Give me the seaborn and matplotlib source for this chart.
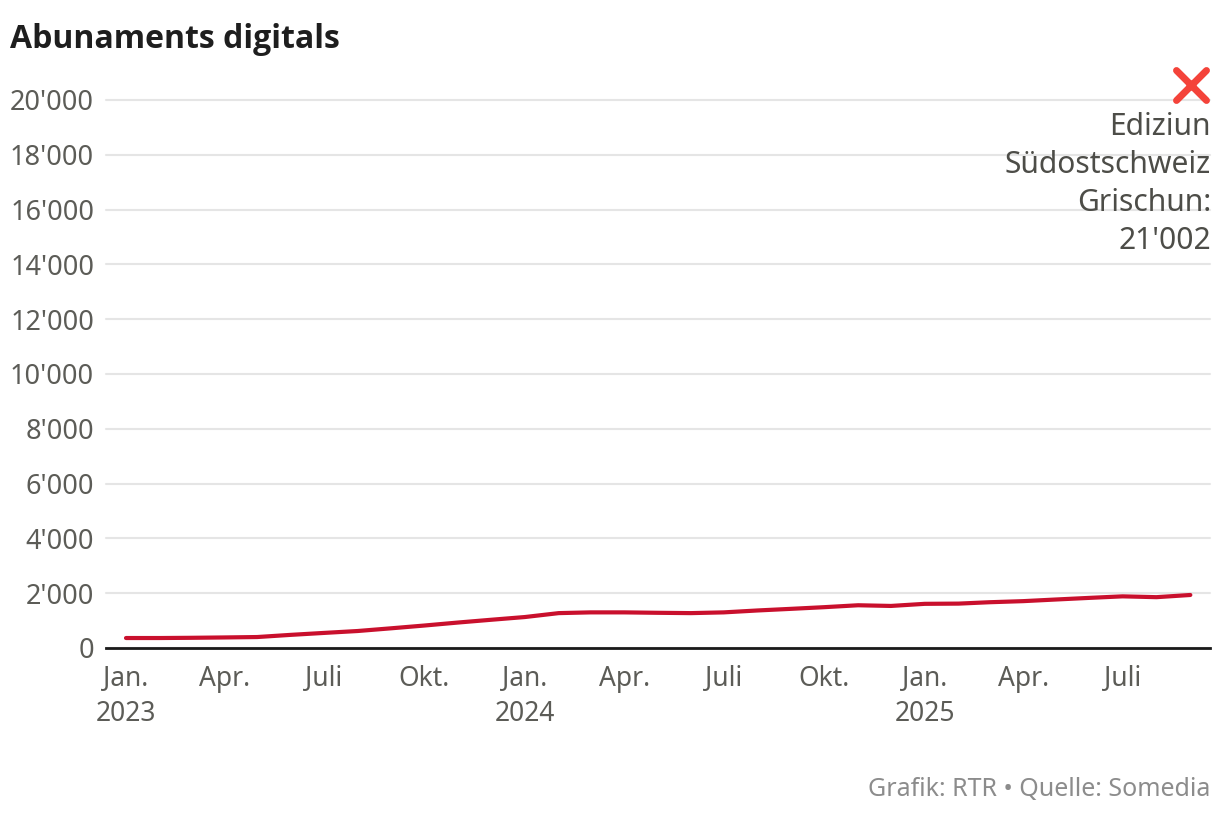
import matplotlib
matplotlib.use("Agg")
import matplotlib.pyplot as plt
from matplotlib.markers import MarkerStyle
import pandas as pd
import seaborn as sns

months = pd.date_range("2023-01-01", "2025-09-01", freq="MS")
subscribers = [364, 364, 372, 385, 400, 480, 550, 620, 720, 820, 930, 1030, 1130,
               1273, 1300, 1300, 1285, 1273, 1300, 1370, 1430, 1490, 1560, 1535,
               1612, 1620, 1670, 1710, 1770, 1830, 1885, 1855, 1935]
y_ticks = [0, 2000, 4000, 6000, 8000, 10000, 12000, 14000, 16000, 18000, 20000]
y_labels = ["0", "2'000", "4'000", "6'000", "8'000", "10'000", "12'000", "14'000", "16'000", "18'000", "20'000"]
x_ticks = ["2023-01-01", "2023-04-01", "2023-07-01", "2023-10-01", "2024-01-01", "2024-04-01",
           "2024-07-01", "2024-10-01", "2025-01-01", "2025-04-01", "2025-07-01"]
x_labels = ["Jan.\n2023", "Apr.", "Juli", "Okt.", "Jan.\n2024", "Apr.", "Juli", "Okt.", "Jan.\n2025", "Apr.", "Juli"]
title = "Abunaments digitals"
note = "Ediziun\nSüdostschweiz\nGrischun:\n21'002"
source = "Grafik: RTR • Quelle: Somedia"
marker_date = "2025-09-02"
marker_value = 20550

W, H = 1220, 818
sns.set_theme(style="white")
plt.rcParams["font.family"] = ["Noto Sans", "DejaVu Sans"]
fig = plt.figure(figsize=(W / 100, H / 100), dpi=100)
ax = fig.add_axes([106 / W, 1 - 648 / H, (1210 - 106) / W, (648 - 100) / H])

df = pd.DataFrame({"month": months, "subscribers": subscribers})
sns.lineplot(data=df, x="month", y="subscribers", ax=ax, color="#c9102d",
             linewidth=3.0, solid_capstyle="round", errorbar=None, clip_on=False, zorder=3)

ax.set_xlim(pd.Timestamp("2023-01-01") - pd.Timedelta(days=18.3),
            pd.Timestamp("2023-01-01") + pd.Timedelta(days=992))
ax.set_ylim(0, 20000)
ax.set_xlabel("")
ax.set_ylabel("")
ax.set_yticks(y_ticks, y_labels)
ax.set_xticks(pd.to_datetime(x_ticks), x_labels)
ax.tick_params(axis="y", length=0, pad=8.6, labelsize=19.5, labelcolor="#5c5c57")
ax.tick_params(axis="x", length=0, pad=12, labelsize=19, labelcolor="#5c5c57")
for t in ax.get_xticklabels():
    t.set_linespacing(1.33)
ax.grid(axis="y", color="#e5e5e5", linewidth=1.5)
ax.grid(axis="x", visible=False)
ax.set_axisbelow(True)
for line in ax.get_ygridlines():
    line.set_clip_on(False)
for s in ["top", "right", "left"]:
    ax.spines[s].set_visible(False)
ax.spines["bottom"].set_color("#1a1a1a")
ax.spines["bottom"].set_linewidth(2.0)
ax.spines["bottom"].set_zorder(2)

cross = MarkerStyle("x", capstyle="round")
ax.plot([pd.Timestamp(marker_date)], [marker_value], linestyle="none", marker=cross,
        markersize=21, markeredgewidth=5, color="#f4433a", clip_on=False, zorder=4)

fig.text(1211 / W, 1 - 112 / H, note, ha="right", va="top", fontsize=21.6,
         color="#4d4d48", linespacing=1.35)
fig.text(10 / W, 1 - 48 / H, title, ha="left", va="baseline", fontsize=23,
         fontfamily="Open Sans", fontweight="bold", color="#1e1e1e")
fig.text(1210 / W, 1 - 796 / H, source, ha="right", va="baseline", fontsize=18, color="#8c8c8c")

fig.savefig("out.png", dpi=100, facecolor="white")
